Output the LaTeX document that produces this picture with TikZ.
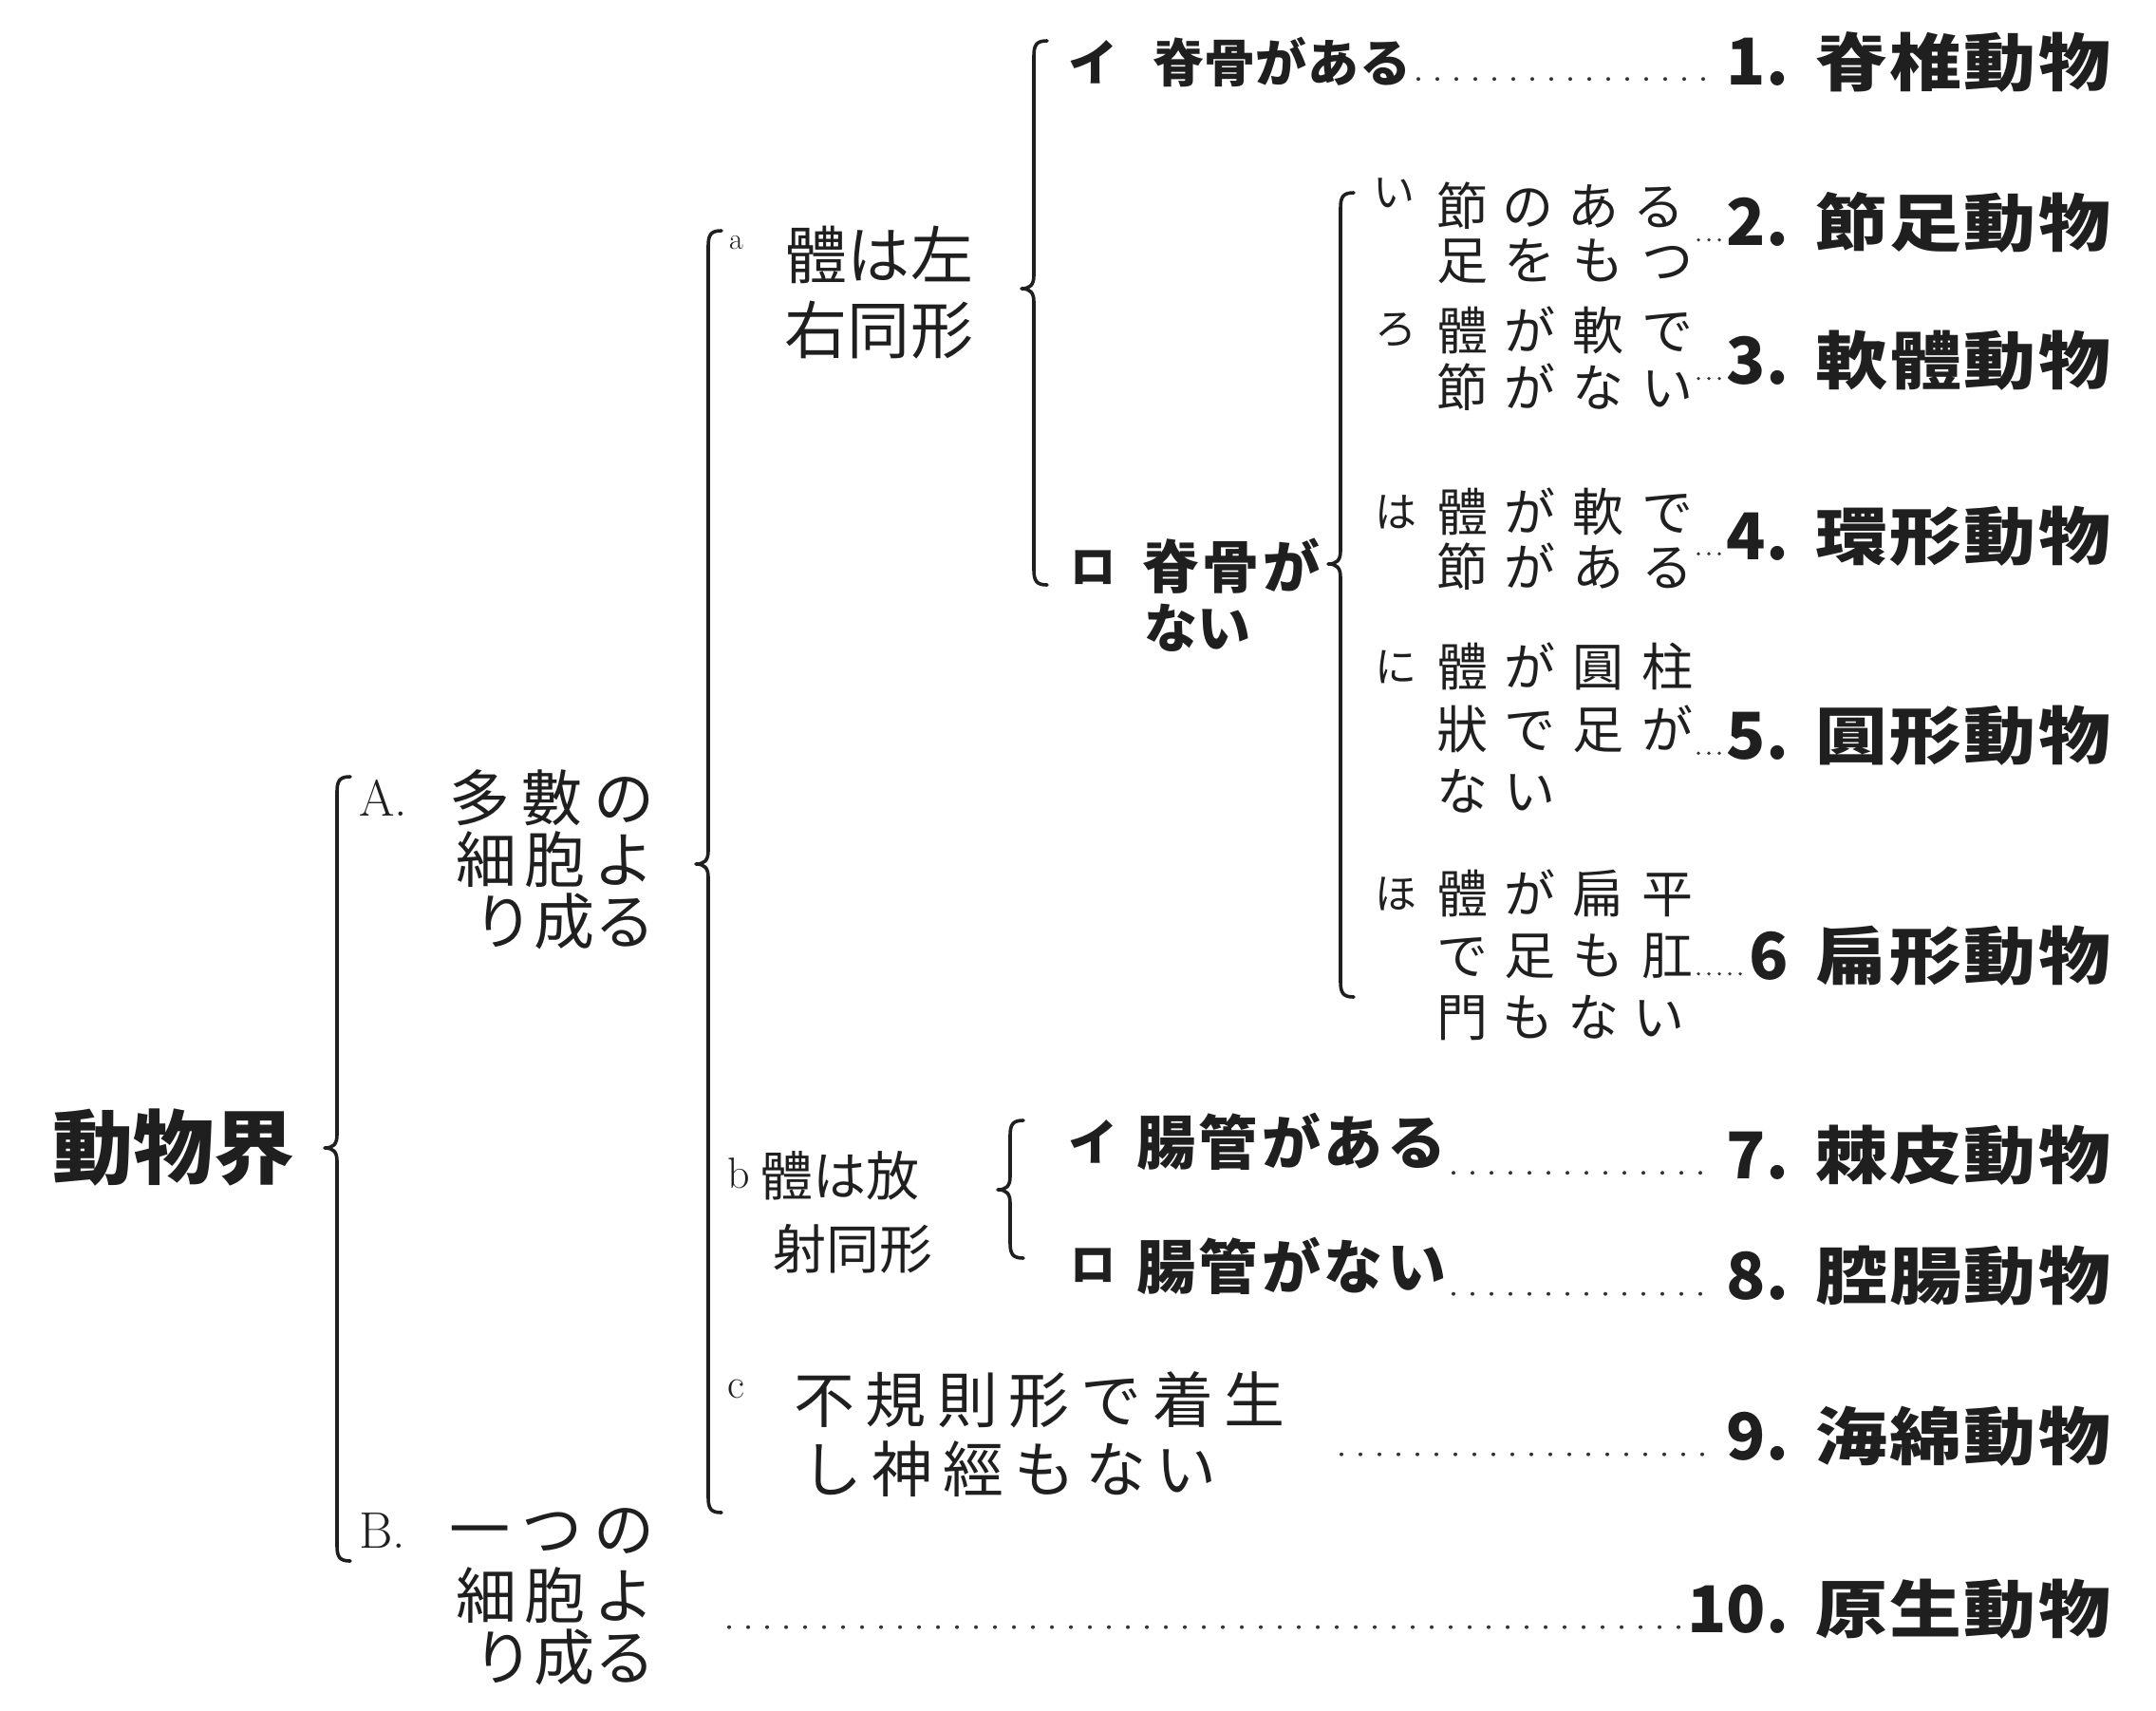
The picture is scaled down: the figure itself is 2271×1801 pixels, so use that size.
\documentclass[tikz,border=0pt]{standalone}
\usepackage{fontspec}
\newfontfamily\cjk{Noto Sans CJK JP}
\newfontfamily\cjkw[FakeStretch=1.15]{Noto Sans CJK JP}
\newdimen\pxu \pxu=0.5pt
\def\sprEnd{sprEnd@marker}
\def\spr#1{\sprA#1\sprEnd}
\def\sprA#1{\ifx#1\sprEnd\else#1\expandafter\sprB\fi}
\def\sprB#1{\ifx#1\sprEnd\else\hfil#1\expandafter\sprB\fi}
\newcommand\sq[2]{\hbox to #1\pxu{\expandafter\spr\expandafter{#2}}}
\newcommand\brc[4]{\draw[brcline] (#1+14,#2) .. controls (#1+3,#2) and (#1,#2+4) .. (#1,#2+16) -- (#1,#3-14) .. controls (#1,#3-4) and (#1-4,#3) .. (#1-13,#3) .. controls (#1-4,#3) and (#1,#3+4) .. (#1,#3+14) -- (#1,#4-16) .. controls (#1,#4-4) and (#1+3,#4) .. (#1+14,#4);}
\tikzset{
  lab/.style={inner sep=0pt, outer sep=0pt, anchor=west, text=black!88},
  jp/.style={lab, font=\cjk\fontsize{#1}{#1}\selectfont},
  jpb/.style={lab, font=\cjk\bfseries\fontsize{#1}{#1}\selectfont},
  jpw/.style={lab, font=\cjkw\bfseries\fontsize{#1}{#1}\selectfont},
  lat/.style={lab, font=\fontsize{#1}{#1}\selectfont},
  brcline/.style={line width=1.8pt, line cap=round, line join=round, draw=black!88},
  leader/.style={line width=2pt, line cap=round, dash pattern=on 0pt off 10pt, draw=black!80, shorten <=4pt, shorten >=4pt},
  sleader/.style={line width=1.8pt, line cap=round, dash pattern=on 0pt off 5.5pt, draw=black!80, shorten <=3pt, shorten >=2pt},
}
\begin{document}
\begin{tikzpicture}[x=0.5pt, y=-0.5pt]
\fill[white] (0,0) rectangle (2271,1801);
\path[use as bounding box] (0,0) rectangle (2271,1801);

% root
\node[jpb=42.5pt] (root) at (55,1209) {動物界};
\brc{355}{818}{1209}{1644}

% A / B
\node[lat=27pt] (Alab) at (378,840) {A.};
\node[jp=32pt, anchor=east] (A1) at (690,840) {\sq{217}{多數の}};
\node[jp=32pt, anchor=east] (A2) at (690,905) {\sq{210}{細胞よ}};
\node[jp=32pt, anchor=east] (A3) at (690,970) {\sq{192}{り成る}};
\node[lat=27pt] (Blab) at (378,1612) {B.};
\node[jp=32pt, anchor=east] (B1) at (690,1612) {\sq{217}{一つの}};
\node[jp=32pt, anchor=east] (B2) at (690,1680) {\sq{210}{細胞よ}};
\node[jp=32pt, anchor=east] (B3) at (690,1745) {\sq{192}{り成る}};

% brace for A
\brc{746}{243}{910}{1593}

% a
\node[lat=16pt] (la) at (768,256) {a};
\node[jp=33pt] (ta1) at (826,268) {\sq{200}{體は左}};
\node[jp=33pt] (ta2) at (826,348) {\sq{200}{右同形}};
\brc{1089}{43}{304}{616}

% b
\node[lat=23pt] (lb) at (766,1236) {b};
\node[jp=28pt] (tb1) at (800,1238) {\sq{168}{體は放}};
\node[jp=28pt] (tb2) at (814,1315) {\sq{168}{射同形}};
\brc{1064}{1180}{1253}{1325}

% c
\node[lat=22pt] (lc) at (766,1463) {c};
\node[jp=32pt] (tc1) at (836,1474) {\sq{518}{不規則形で着生}};
\node[jp=32pt] (tc2) at (844,1547) {\sq{438}{し神經もない}};

% a -> イ / ロ
\node[jpb=26pt] (i1) at (1125,65) {イ};
\node[jpb=27pt] (t1) at (1214,65) {\sq{272}{脊骨がある}};
\node[jpb=24pt] (ro1) at (1127,598) {ロ};
\node[jpb=30pt] (t2a) at (1203,596) {\sq{188}{脊骨が}};
\node[jpb=28pt] (t2b) at (1205,661) {ない};
\brc{1412}{203}{594}{1050}

% ロ children
\node[jp=22pt] (k1) at (1446,203) {い};
\node[jp=22pt] (k2) at (1448,348) {ろ};
\node[jp=22pt] (k3) at (1448,539) {は};
\node[jp=22pt] (k4) at (1448,702) {に};
\node[jp=22pt] (k5) at (1448,941) {ほ};
\node[jp=27pt] (u1a) at (1513,217) {\sq{262}{節のある}};
\node[jp=27pt] (u1b) at (1513,275) {\sq{270}{足をもつ}};
\node[jp=27pt] (u2a) at (1513,348) {\sq{270}{體が軟で}};
\node[jp=27pt] (u2b) at (1513,408) {\sq{270}{節がない}};
\node[jp=27pt] (u3a) at (1513,539) {\sq{270}{體が軟で}};
\node[jp=27pt] (u3b) at (1513,597) {\sq{270}{節がある}};
\node[jp=27pt] (u4a) at (1513,702) {\sq{270}{體が圓柱}};
\node[jp=27pt] (u4b) at (1513,768) {\sq{270}{狀で足が}};
\node[jp=27pt] (u4c) at (1513,833) {\sq{126}{ない}};
\node[jp=27pt] (u5a) at (1513,941) {\sq{270}{體が扁平}};
\node[jp=27pt] (u5b) at (1513,1007) {\sq{270}{で足も肛}};
\node[jp=27pt] (u5c) at (1513,1072) {\sq{262}{門もない}};

% b children
\node[jpb=26pt] (i2) at (1125,1202) {イ};
\node[jpb=31pt] (t7) at (1197,1202) {\sq{326}{腸管がある}};
\node[jpb=24pt] (ro2) at (1127,1333) {ロ};
\node[jpb=31pt] (t8) at (1197,1333) {\sq{326}{腸管がない}};

% species
\foreach \n/\y/\num/\name in {1/65/1./脊椎動物, 2/234/2./節足動物, 3/380/3./軟體動物, 4/565/4./環形動物, 5/775/5./圓形動物, 6/1007/6/扁形動物, 7/1217/7./棘皮動物, 8/1344/8./腔腸動物, 9/1513/9./海綿動物, 10/1695/10./原生動物}{
  \node[jpb=34pt, anchor=east] (n\n) at (1884,\y) {\num};
  \node[jpw=33pt] (s\n) at (1912,\y) {\sq{311}{\name}};
}

% leaders
\coordinate (c9) at (1405,1513);
\coordinate (b10) at (760,1695);
\draw[leader] ([yshift=3pt]t1.east |- n1.base) -- ([yshift=3pt]n1.base west);
\draw[sleader] ([yshift=3pt]u1b.east |- n2.base) -- ([yshift=3pt]n2.base west);
\draw[sleader] ([yshift=3pt]u2b.east |- n3.base) -- ([yshift=3pt]n3.base west);
\draw[sleader] ([yshift=3pt]u3b.east |- n4.base) -- ([yshift=3pt]n4.base west);
\draw[sleader] ([yshift=3pt]u4b.east |- n5.base) -- ([yshift=3pt]n5.base west);
\draw[sleader] ([yshift=3pt]u5b.east |- n6.base) -- ([yshift=3pt]n6.base west);
\draw[leader] ([yshift=3pt]t7.east |- n7.base) -- ([yshift=3pt]n7.base west);
\draw[leader] ([yshift=3pt]t8.east |- n8.base) -- ([yshift=3pt]n8.base west);
\draw[leader] ([yshift=3pt]c9 |- n9.base) -- ([yshift=3pt]n9.base west);
\draw[leader] ([yshift=3pt]b10 |- n10.base) -- ([yshift=3pt]n10.base west);
\end{tikzpicture}
\end{document}
